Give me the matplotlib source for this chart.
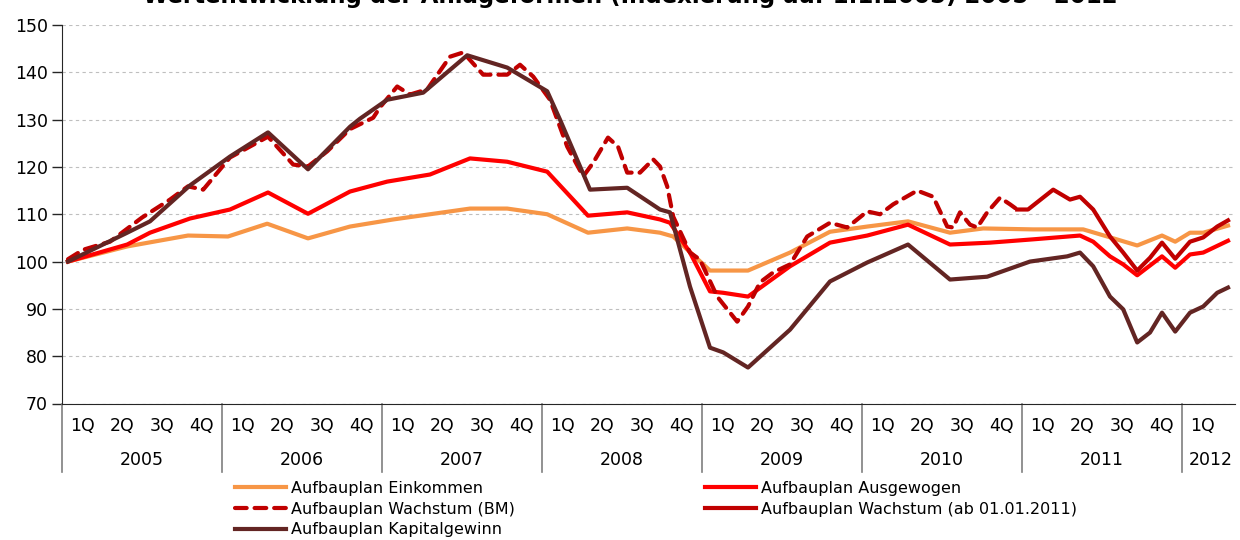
import matplotlib
matplotlib.use("Agg")
import matplotlib.pyplot as plt
from matplotlib.lines import Line2D
from matplotlib.transforms import blended_transform_factory

plt.rcParams.update({
    "font.family": ["DejaVu Sans"],
    "font.size": 11,
})

# x positions in quarters since start of 2005 (0 = 1Q 2005)
einkommen_x = [0.15, 1.63, 3.15, 4.15, 5.13, 6.15, 7.2, 8.28, 9.2, 10.2, 11.13,
               12.13, 13.15, 14.13, 14.95, 15.28, 16.2, 17.15, 18.2, 19.2, 20.13,
               21.15, 22.2, 23.03, 24.28, 25.53, 26.13, 26.88, 27.5, 27.83, 28.2,
               28.53, 29.15]
einkommen_y = [100, 103.2, 105.5, 105.3, 108.0, 104.9, 107.4, 108.9, 110.0, 111.2,
               111.2, 110.0, 106.1, 107.0, 106.1, 105.3, 98.1, 98.1, 101.9, 106.3,
               107.4, 108.5, 106.1, 107.0, 106.8, 106.8, 105.3, 103.4, 105.5, 104.2,
               106.1, 106.1, 107.6]

ausgewogen_x = [0.15, 1.63, 2.2, 3.2, 4.2, 5.15, 6.15, 7.2, 8.13, 9.2, 10.2, 11.13,
                12.13, 13.15, 14.13, 14.95, 15.2, 15.7, 16.2, 16.53, 17.15, 18.2,
                19.2, 20.13, 21.15, 22.2, 23.2, 24.28, 25.45, 25.78, 26.2, 26.53,
                26.88, 27.5, 27.83, 28.2, 28.53, 29.15]
ausgewogen_y = [100, 103.6, 106.1, 109.1, 111.0, 114.6, 110.1, 114.8, 116.9, 118.4,
                121.8, 121.1, 119.0, 109.7, 110.4, 108.9, 108.2, 101.9, 93.7, 93.4,
                92.6, 99.0, 104.0, 105.5, 107.8, 103.6, 104.0, 104.7, 105.5, 104.2,
                101.1, 99.4, 97.1, 101.1, 98.7, 101.5, 101.9, 104.4]

wachstum_bm_x = [0.15, 0.53, 1.2, 2.0, 2.7, 3.15, 3.53, 4.2, 5.15, 5.78, 6.15, 6.63,
                 7.2, 7.78, 7.95, 8.38, 8.7, 9.13, 9.7, 10.03, 10.53, 11.13, 11.45,
                 11.78, 12.2, 12.63, 13.03, 13.28, 13.65, 13.9, 14.13, 14.45, 14.78,
                 14.95, 15.13, 15.28, 15.7, 15.95, 16.38, 16.88, 17.15, 17.45, 17.78,
                 18.2, 18.63, 19.2, 19.63, 20.13, 20.45, 20.78, 21.38, 21.78, 22.13,
                 22.28, 22.45, 22.7, 22.88, 23.13, 23.45, 23.7, 23.88]
wachstum_bm_y = [100.5, 102.5, 104.2, 109.3, 113.1, 115.9, 115.2, 122.0, 126.4, 120.5,
                 120.1, 123.3, 128.0, 130.4, 132.6, 137.0, 135.3, 136.4, 143.3, 144.2,
                 139.5, 139.5, 141.6, 139.1, 134.2, 124.3, 118.0, 120.9, 126.2, 124.3,
                 118.8, 118.8, 121.6, 120.1, 115.9, 109.5, 101.9, 100.4, 92.6, 87.3,
                 90.5, 95.6, 97.7, 99.4, 105.3, 108.2, 107.2, 110.6, 110.0, 112.1,
                 115.0, 113.7, 107.4, 107.2, 110.4, 107.8, 107.2, 110.4, 113.5, 112.1,
                 111.0]

wachstum_2011_x = [23.88, 24.15, 24.78, 25.2, 25.45, 25.78, 26.2, 26.53, 26.88, 27.2,
                   27.5, 27.83, 28.2, 28.53, 28.88, 29.15]
wachstum_2011_y = [111.0, 111.0, 115.2, 113.1, 113.7, 111.0, 105.3, 101.9, 98.1, 100.8,
                   104.0, 100.6, 104.2, 105.1, 107.4, 108.7]

kapital_x = [0.15, 1.63, 2.2, 3.2, 4.2, 5.15, 6.15, 7.2, 7.45, 8.13, 9.03, 10.13,
             11.13, 12.13, 12.45, 13.2, 14.13, 14.95, 15.2, 15.7, 16.2, 16.53, 17.15,
             18.2, 19.2, 20.13, 21.15, 22.2, 23.13, 24.2, 25.13, 25.45, 25.78, 26.2,
             26.53, 26.88, 27.2, 27.5, 27.83, 28.2, 28.53, 28.88, 29.15]
kapital_y = [100, 106.1, 108.5, 116.1, 122.2, 127.3, 119.5, 128.5, 130.2, 134.2, 135.7,
             143.6, 141.0, 136.0, 130.0, 115.2, 115.6, 111.0, 110.4, 94.7, 81.8, 80.8,
             77.6, 85.6, 95.8, 99.8, 103.6, 96.2, 96.8, 100, 101.1, 101.9, 99.0, 92.6,
             89.9, 82.9, 85.0, 89.2, 85.2, 89.2, 90.5, 93.4, 94.5]

years = ["2005", "2006", "2007", "2008", "2009", "2010", "2011", "2012"]
quarters = ["1Q", "2Q", "3Q", "4Q"]
n_quarters = 29

ORANGE, RED, DKRED, BROWN = "#F79646", "#FF0000", "#C00000", "#632523"

fig = plt.figure(figsize=(12.4, 5.4), dpi=100)
ax = fig.add_axes([62 / 1240, 136.5 / 540, (1235 - 62) / 1240, 378.5 / 540])

lw = 3.0
ax.plot(einkommen_x, einkommen_y, color=ORANGE, lw=lw, solid_joinstyle="round")
ax.plot(ausgewogen_x, ausgewogen_y, color=RED, lw=lw, solid_joinstyle="round")
ax.plot(wachstum_bm_x, wachstum_bm_y, color=DKRED, lw=lw,
        ls=(0, (2.8, 1.9)), dash_capstyle="round")
ax.plot(wachstum_2011_x, wachstum_2011_y, color=DKRED, lw=lw, solid_joinstyle="round")
ax.plot(kapital_x, kapital_y, color=BROWN, lw=lw, solid_joinstyle="round")

ax.set_xlim(0, (1235 - 62) / 40)
ax.set_ylim(70, 150)
ax.set_yticks(range(70, 151, 10))
ax.yaxis.grid(True, color="#BFBFBF", ls=(0, (3, 3)), lw=0.8)
ax.set_axisbelow(True)
for s in ("top", "right"):
    ax.spines[s].set_visible(False)
ax.spines["left"].set_color("#262626")
ax.spines["bottom"].set_color("#262626")
ax.tick_params(axis="y", length=7, width=1, pad=3, labelsize=12.5, color="#262626")

# quarter labels
ax.set_xticks([i + 0.5 for i in range(n_quarters)])
ax.set_xticklabels([quarters[i % 4] for i in range(n_quarters)])
ax.tick_params(axis="x", length=0, pad=10, labelsize=12.5)

# year labels and separators
trans = blended_transform_factory(ax.transData, ax.transAxes)
for k, yr in enumerate(years):
    start = 4 * k
    end = min(start + 4, ax.get_xlim()[1])
    ax.text((start + end) / 2 + (0.05 if k == 7 else 0), -0.15, yr,
            transform=trans, ha="center", va="center", fontsize=12.5)
    ax.add_line(Line2D([start, start], [0, -0.182], transform=trans,
                       color="#7F7F7F", lw=1.2, clip_on=False))

# title (clipped at the top in the source image)
fig.text(0.508, 1 - 3 / 540,
         "Wertentwicklung der Anlageformen (Indexierung auf 1.1.2005) 2005 - 2012",
         ha="center", va="baseline", fontsize=16.5, fontweight="bold")

h_ein = Line2D([], [], color=ORANGE, lw=lw)
h_aus = Line2D([], [], color=RED, lw=lw)
h_bm = Line2D([], [], color=DKRED, lw=lw, ls=(0, (2.8, 1.9)), dash_capstyle="round")
h_2011 = Line2D([], [], color=DKRED, lw=lw)
h_kap = Line2D([], [], color=BROWN, lw=lw)

kw = dict(loc="upper left", frameon=False, fontsize=11.5, handlelength=3.2,
          handletextpad=0.3, labelspacing=0.35, borderpad=0, borderaxespad=0)
fig.legend([h_ein, h_bm, h_kap],
           ["Aufbauplan Einkommen", "Aufbauplan Wachstum (BM)",
            "Aufbauplan Kapitalgewinn"],
           bbox_to_anchor=(235 / 1240, 1 - 481 / 540), **kw)
fig.legend([h_aus, h_2011],
           ["Aufbauplan Ausgewogen", "Aufbauplan Wachstum (ab 01.01.2011)"],
           bbox_to_anchor=(705 / 1240, 1 - 481 / 540), **kw)

fig.savefig("out.png", dpi=100)
